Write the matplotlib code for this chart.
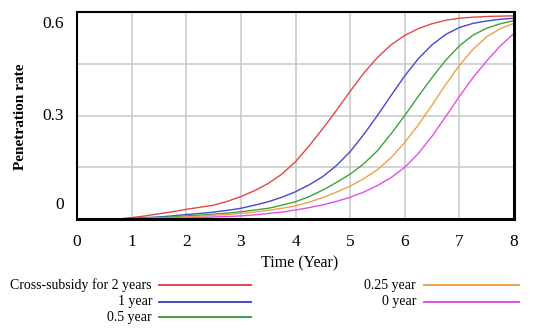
import matplotlib
matplotlib.use("Agg")
import matplotlib.pyplot as plt
from matplotlib.lines import Line2D

time = [0, 0.25, 0.5, 0.75, 1, 1.25, 1.5, 1.75, 2, 2.25, 2.5, 2.75, 3, 3.25, 3.5, 3.75,
        4, 4.25, 4.5, 4.75, 5, 5.25, 5.5, 5.75, 6, 6.25, 6.5, 6.75, 7, 7.25, 7.5, 7.75, 8]

sub_2y = [0, 0, 0, 0, 0.004, 0.009, 0.015, 0.021, 0.028, 0.034, 0.040, 0.051, 0.065, 0.082, 0.103, 0.130,
          0.166, 0.212, 0.262, 0.315, 0.370, 0.423, 0.468, 0.505, 0.532, 0.552, 0.566, 0.576, 0.582, 0.585, 0.587, 0.588, 0.589]
sub_1y = [0, 0, 0, 0, 0.002, 0.004, 0.006, 0.009, 0.013, 0.016, 0.020, 0.025, 0.031, 0.040, 0.050, 0.063,
          0.079, 0.099, 0.123, 0.155, 0.195, 0.245, 0.300, 0.358, 0.415, 0.465, 0.505, 0.535, 0.555, 0.567, 0.574, 0.579, 0.582]
sub_05y = [0, 0, 0, 0, 0.001, 0.002, 0.004, 0.006, 0.009, 0.011, 0.014, 0.017, 0.021, 0.026, 0.031, 0.040,
           0.050, 0.065, 0.084, 0.106, 0.130, 0.160, 0.198, 0.247, 0.300, 0.356, 0.410, 0.460, 0.502, 0.533, 0.553, 0.566, 0.575]
sub_025y = [0, 0, 0, 0, 0.001, 0.002, 0.003, 0.004, 0.006, 0.008, 0.011, 0.013, 0.016, 0.020, 0.025, 0.031,
            0.038, 0.049, 0.062, 0.078, 0.095, 0.117, 0.143, 0.178, 0.222, 0.273, 0.330, 0.390, 0.445, 0.492, 0.528, 0.552, 0.567]
sub_0y = [0, 0, 0, 0, 0, 0, 0.001, 0.002, 0.003, 0.004, 0.006, 0.007, 0.009, 0.012, 0.016, 0.020,
          0.026, 0.033, 0.041, 0.051, 0.063, 0.078, 0.097, 0.120, 0.150, 0.190, 0.240, 0.297, 0.355, 0.410, 0.458, 0.502, 0.538]

series_labels = ["Cross-subsidy for 2 years", "1 year", "0.5 year", "0.25 year", "0 year"]
series_colors = ["#e04848", "#4848cc", "#40a040", "#f0a048", "#e050e8"]
series_values = [sub_2y, sub_1y, sub_05y, sub_025y, sub_0y]

x_ticks = [0, 1, 2, 3, 4, 5, 6, 7, 8]
y_label_vals = [0, 0.3, 0.6]
y_label_txt = ["0", "0.3", "0.6"]
y_grid = [0, 0.15, 0.3, 0.45, 0.6]

W, H = 540, 335
fig = plt.figure(figsize=(W / 100, H / 100), dpi=100)
serif = ["Liberation Serif", "DejaVu Serif"]

L, R, T, B = 77, 514, 12, 219
ax = fig.add_axes([L / W, 1 - B / H, (R - L) / W, (B - T) / H])
ax.set_xlim(0, 8)
ax.set_ylim(0, 0.6)

for vals, col in zip(series_values, series_colors):
    ax.plot(time, vals, color=col, lw=1.0, zorder=3, clip_on=False)

ax.set_xticks(x_ticks)
ax.set_yticks(y_grid)
ax.set_yticklabels([])
ax.grid(True, color="#c8c8c8", lw=1.1, zorder=0)
ax.tick_params(axis="both", length=0)
ax.tick_params(axis="x", pad=11)
for lab in ax.get_xticklabels():
    lab.set_fontfamily(serif)
    lab.set_fontsize(12.5)

for side in ["left", "top"]:
    ax.spines[side].set_linewidth(1.5)
for side in ["right", "bottom"]:
    ax.spines[side].set_linewidth(2.2)
for s in ax.spines.values():
    s.set_color("black")
    s.set_zorder(4)

offsets = {0: 14, 0.3: 0, 0.6: -12}
for v, t in zip(y_label_vals, y_label_txt):
    ax.annotate(t, xy=(0, v), xycoords=("axes fraction", "data"),
                xytext=(-13, offsets[v]), textcoords="offset pixels",
                ha="right", va="center", fontsize=12.5, family=serif)

fig.text(21 / W, 1 - 117 / H, "Penetration rate", rotation=90, ha="center", va="center",
         fontsize=11, fontweight="bold", family=serif)
fig.text(300 / W, 1 - 263 / H, "Time (Year)", ha="center", va="center",
         fontsize=11.5, family=serif)

# legend
rows = [285, 302, 317]
entries = [
    (0, 0, 152, 159, 251),
    (1, 1, 152, 159, 251),
    (2, 2, 152, 159, 251),
    (3, 0, 416, 424, 519),
    (4, 1, 416, 424, 519),
]
for idx, r, tx, x0, x1 in entries:
    y = 1 - rows[r] / H
    fig.add_artist(Line2D([x0 / W, x1 / W], [y, y], transform=fig.transFigure,
                          color=series_colors[idx], lw=1.4))
    fig.text(tx / W, y, series_labels[idx], ha="right", va="center",
             fontsize=10, family=serif)

fig.savefig("out.png", dpi=100)
